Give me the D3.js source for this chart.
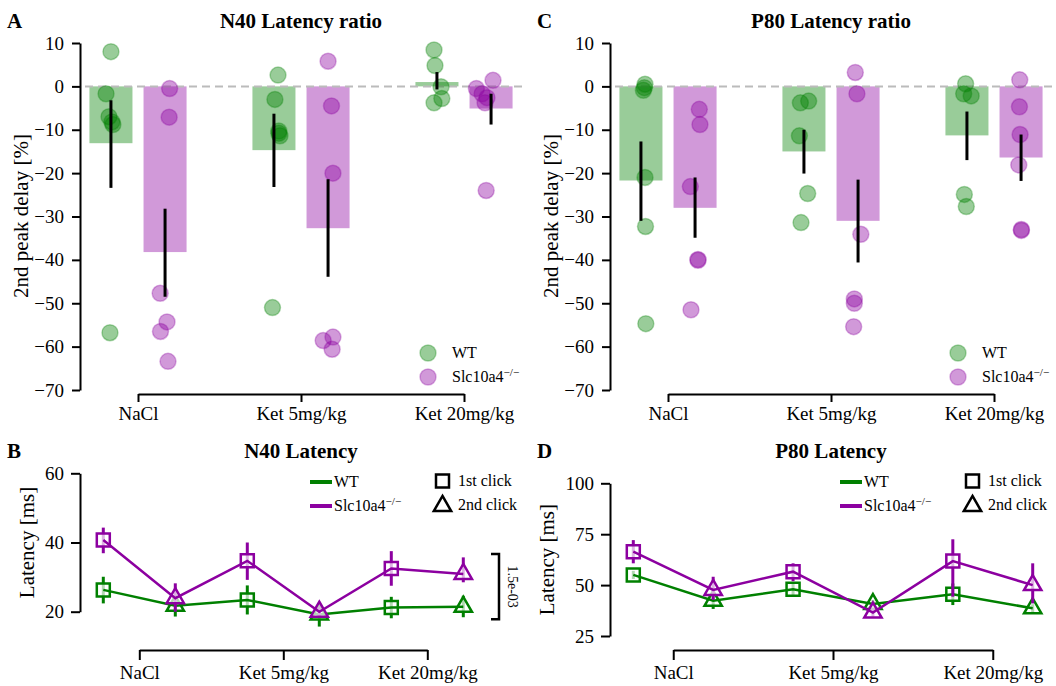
<!DOCTYPE html>
<html>
<head>
<meta charset="utf-8">
<script src="https://cdn.jsdelivr.net/npm/d3@7"></script>
<style>
  body { margin: 0; background: #fff; }
  svg { font-family: "Liberation Serif", serif; }
  .axis path, .axis line { stroke: #000; stroke-width: 2; }
  .axis text { font-family: "Liberation Serif", serif; font-size: 19px; fill: #000; }
</style>
</head>
<body>
<svg id="fig" width="1056" height="686"></svg>
<script>
var width = 1056;
var height = 686;

// categories and groups
var conditions = ["NaCl", "Ket 5mg/kg", "Ket 20mg/kg"];
var genotypes = ["WT", "Slc10a4"];
var clicks = ["1st click", "2nd click"];

var green = "#008000";
var purple = "#8c00a0";

// ---- panel A: N40 latency ratio (bars = mean, ci = error bar, points = animals)
var n40RatioWT = [-13.1, -14.7, 1.0];
var n40RatioSlc = [-38.2, -32.7, -5.1];
var n40CiWT = [[-23.4, -3.2], [-23.2, -6.3], [-0.7, 3.3]];
var n40CiSlc = [[-48.5, -28.2], [-43.9, -21.4], [-8.8, -1.7]];
var n40PtsWT = [
  [8.0, -1.7, -7.0, -8.2, -8.8, -56.8],
  [2.6, -3.0, -10.3, -10.8, -11.4, -51.0],
  [8.4, 4.8, -0.1, -2.8, -3.8]
];
var n40PtsSlc = [
  [-0.5, -7.1, -47.7, -54.3, -56.5, -63.4],
  [5.8, -4.5, -20.0, -57.8, -58.6, -60.6],
  [1.4, -0.5, -1.7, -2.6, -3.8, -24.0]
];
// strip jitter (fraction of category step)
var n40JitWT = [
  [0, -0.03, -0.012, 0.006, 0.012, -0.006],
  [0.025, 0.006, 0.03, 0.03, 0.037, -0.009],
  [-0.018, -0.012, 0.025, 0.03, -0.018]
];
var n40JitSlc = [
  [0.028, 0.025, -0.03, 0.012, -0.028, 0.018],
  [0, 0.021, 0.03, 0.03, -0.03, 0.025],
  [0.012, -0.09, -0.055, -0.025, -0.037, -0.03]
];

// ---- panel C: P80 latency ratio
var p80RatioWT = [-21.7, -15.0, -11.3];
var p80RatioSlc = [-28.0, -31.0, -16.4];
var p80CiWT = [[-31.0, -12.7], [-20.1, -10.0], [-17.0, -5.8]];
var p80CiSlc = [[-34.9, -21.0], [-40.6, -21.5], [-21.8, -11.1]];
var p80PtsWT = [
  [0.5, -0.3, -0.9, -21.0, -32.3, -54.7],
  [-3.4, -3.8, -11.4, -24.7, -31.4],
  [0.6, -1.7, -2.2, -24.9, -27.7]
];
var p80PtsSlc = [
  [-5.3, -8.8, -23.1, -39.9, -40.1, -51.5],
  [3.2, -1.7, -34.1, -49.0, -50.0, -55.4],
  [1.5, -4.7, -11.1, -18.1, -33.0, -33.2]
];
var p80JitWT = [
  [0.025, 0.021, 0.015, 0.025, 0.028, 0.03],
  [0.029, -0.022, -0.028, 0.023, -0.018],
  [-0.008, -0.02, 0.026, -0.016, -0.004]
];
var p80JitSlc = [
  [0.026, 0.03, -0.029, 0.018, 0.018, -0.025],
  [-0.017, -0.007, 0.017, -0.023, -0.023, -0.027],
  [-0.008, -0.01, -0.006, -0.014, 0.002, 0.002]
];

// ---- panel B: N40 latency, order: NaCl 1st, NaCl 2nd, Ket5 1st, Ket5 2nd, Ket20 1st, Ket20 2nd
var n40LatWT = [26.3, 21.7, 23.4, 19.2, 21.2, 21.4];
var n40LatWTci = [[22.4, 30.1], [18.6, 24.0], [19.2, 27.6], [15.7, 20.5], [18.1, 24.3], [18.4, 24.6]];
var n40LatSlc = [40.7, 23.9, 34.7, 20.0, 32.5, 30.9];
var n40LatSlcci = [[36.9, 44.3], [20.0, 28.2], [29.2, 40.0], [18.5, 21.5], [27.5, 37.5], [28.5, 35.7]];
var n40Bracket = [17.8, 36.7];
var n40Pval = "1.5e-03";

// ---- panel D: P80 latency
var p80LatWT = [55.0, 42.3, 48.0, 40.7, 45.5, 38.6];
var p80LatWTci = [[53.0, 57.0], [38.3, 46.3], [44.6, 51.2], [38.7, 42.7], [40.2, 50.8], [36.6, 40.6]];
var p80LatSlc = [66.4, 47.6, 56.6, 36.5, 61.8, 50.0];
var p80LatSlcci = [[60.7, 72.1], [42.7, 54.1], [51.9, 60.7], [34.5, 38.5], [44.3, 72.5], [41.0, 60.7]];

var svg = d3.select("#fig");

function slcLabel(sel) {
  sel.append("tspan").text("Slc10a4");
  sel.append("tspan").attr("dy", -6).attr("font-size", "0.7em").text("\u2212/\u2212");
}

function barPanel(ox, letter, title, meanWT, meanSlc, ciWT, ciSlc, ptsWT, ptsSlc, jitWT, jitSlc) {
  var g = svg.append("g").attr("transform", "translate(" + ox + ",0)");

  var y = d3.scaleLinear().domain([-70, 10]).range([390, 43]);
  var x = d3.scalePoint().domain(conditions).range([138, 464]);
  var step = x.step();
  var off = 0.166 * step, bw = 0.264 * step;

  var series = [
    { col: green, mean: meanWT, ci: ciWT, pts: ptsWT, jit: jitWT, dx: -off },
    { col: purple, mean: meanSlc, ci: ciSlc, pts: ptsSlc, jit: jitSlc, dx: off }
  ];

  series.forEach(function (s) {
    g.selectAll(null).data(conditions).enter().append("rect")
      .attr("x", function (d) { return x(d) + s.dx - bw / 2; })
      .attr("width", bw)
      .attr("y", function (d, i) { return y(Math.max(0, s.mean[i])); })
      .attr("height", function (d, i) { return Math.abs(y(s.mean[i]) - y(0)); })
      .attr("fill", s.col).attr("fill-opacity", 0.4);
  });

  // zero line
  g.append("line")
    .attr("x1", 85).attr("x2", 522)
    .attr("y1", y(0)).attr("y2", y(0))
    .attr("stroke", "#bbb").attr("stroke-width", 2).attr("stroke-dasharray", "8,5");

  series.forEach(function (s) {
    conditions.forEach(function (c, i) {
      g.selectAll(null).data(s.pts[i]).enter().append("circle")
        .attr("cx", function (d, j) { return x(c) + s.dx + s.jit[i][j] * step; })
        .attr("cy", function (d) { return y(d); })
        .attr("r", 8)
        .attr("fill", s.col).attr("fill-opacity", 0.4)
        .attr("stroke", s.col).attr("stroke-opacity", 0.3).attr("stroke-width", 1.5);
    });
    g.selectAll(null).data(conditions).enter().append("line")
      .attr("x1", function (d) { return x(d) + s.dx; })
      .attr("x2", function (d) { return x(d) + s.dx; })
      .attr("y1", function (d, i) { return y(s.ci[i][0]); })
      .attr("y2", function (d, i) { return y(s.ci[i][1]); })
      .attr("stroke", "#000").attr("stroke-width", 3);
  });

  g.append("g").attr("class", "axis").attr("transform", "translate(80,0)")
    .call(d3.axisLeft(y).tickValues(d3.range(-70, 11, 10)).tickSize(8).tickSizeOuter(0).tickPadding(8));
  g.append("g").attr("class", "axis").attr("transform", "translate(0,394)")
    .call(d3.axisBottom(x).tickSize(8).tickSizeOuter(0).tickPadding(5));

  g.append("text").attr("transform", "translate(28,216) rotate(-90)")
    .attr("text-anchor", "middle").attr("font-size", 21).text("2nd peak delay [%]");
  g.append("text").attr("x", 301).attr("y", 28).attr("text-anchor", "middle")
    .attr("font-size", 21).attr("font-weight", "bold").text(title);
  g.append("text").attr("x", 7).attr("y", 28)
    .attr("font-size", 21).attr("font-weight", "bold").text(letter);

  // legend
  series.forEach(function (s, i) {
    var ly = 353 + i * 24;
    g.append("circle").attr("cx", 428).attr("cy", ly).attr("r", 8)
      .attr("fill", s.col).attr("fill-opacity", 0.4)
      .attr("stroke", s.col).attr("stroke-opacity", 0.3).attr("stroke-width", 1.5);
    var t = g.append("text").attr("x", 452).attr("y", ly + 5).attr("font-size", 16);
    if (i == 0) t.text("WT"); else slcLabel(t);
  });
}

function linePanel(ox, letter, title, yDomain, yTicks, yBottom, yTop, xRange, labelX, meanWT, ciWT, meanSlc, ciSlc, bracket, pval) {
  var g = svg.append("g").attr("transform", "translate(" + ox + ",0)");
  var keys = [];
  conditions.forEach(function (c) { clicks.forEach(function (k) { keys.push(c + "|" + k); }); });

  var y = d3.scaleLinear().domain(yDomain).range([yBottom, yTop]);
  var x = d3.scalePoint().domain(keys).range(xRange);
  var xc = d3.scalePoint().domain(conditions)
    .range([(x(keys[0]) + x(keys[1])) / 2, (x(keys[4]) + x(keys[5])) / 2]);

  var square = d3.symbol().type(d3.symbolSquare).size(169);
  var tri = d3.symbol().type(d3.symbolTriangle).size(130);

  var series = [
    { col: green, mean: meanWT, ci: ciWT },
    { col: purple, mean: meanSlc, ci: ciSlc }
  ];

  series.forEach(function (s) {
    g.selectAll(null).data(keys).enter().append("line")
      .attr("x1", function (d) { return x(d); })
      .attr("x2", function (d) { return x(d); })
      .attr("y1", function (d, i) { return y(s.ci[i][0]); })
      .attr("y2", function (d, i) { return y(s.ci[i][1]); })
      .attr("stroke", s.col).attr("stroke-width", 3);
    g.selectAll(null).data(keys).enter().append("path")
      .attr("transform", function (d, i) { return "translate(" + x(d) + "," + y(s.mean[i]) + ")"; })
      .attr("d", function (d, i) { return i % 2 == 0 ? square() : tri(); })
      .attr("fill", "#fff").attr("fill-opacity", 0.7)
      .attr("stroke", s.col).attr("stroke-width", 2.5);
    g.append("path").datum(keys)
      .attr("d", d3.line().x(function (d) { return x(d); }).y(function (d, i) { return y(s.mean[i]); }))
      .attr("fill", "none").attr("stroke", s.col).attr("stroke-width", 2.5);
  });

  g.append("g").attr("class", "axis").attr("transform", "translate(80,0)")
    .call(d3.axisLeft(y).tickValues(yTicks).tickSize(9).tickSizeOuter(0).tickPadding(7));
  g.append("g").attr("class", "axis").attr("transform", "translate(0,650)")
    .call(d3.axisBottom(xc).tickSize(10).tickSizeOuter(0).tickPadding(6));

  g.append("text").attr("transform", "translate(" + labelX + "," + ((yBottom + yTop) / 2) + ") rotate(-90)")
    .attr("text-anchor", "middle").attr("font-size", 21).text("Latency [ms]");
  g.append("text").attr("x", 301).attr("y", 458).attr("text-anchor", "middle")
    .attr("font-size", 21).attr("font-weight", "bold").text(title);
  g.append("text").attr("x", 7).attr("y", 458)
    .attr("font-size", 21).attr("font-weight", "bold").text(letter);

  // legends
  series.forEach(function (s, i) {
    var ly = 482 + i * 24;
    g.append("line").attr("x1", 310).attr("x2", 332).attr("y1", ly).attr("y2", ly)
      .attr("stroke", s.col).attr("stroke-width", 4);
    var t = g.append("text").attr("x", 334).attr("y", ly + 5).attr("font-size", 16);
    if (i == 0) t.text("WT"); else slcLabel(t);
  });
  clicks.forEach(function (k, i) {
    var ly = 481 + i * 24;
    g.append("path").attr("transform", "translate(442.5," + (ly + (i == 1 ? 1 : 0)) + ")")
      .attr("d", i == 0 ? square() : tri())
      .attr("fill", "none").attr("stroke", "#000").attr("stroke-width", 2.5);
    g.append("text").attr("x", 458).attr("y", ly + 5).attr("font-size", 16).text(k);
  });

  if (bracket) {
    g.append("path")
      .attr("d", "M491," + y(bracket[1]) + "H499V" + y(bracket[0]) + "H491")
      .attr("fill", "none").attr("stroke", "#000").attr("stroke-width", 2.5);
    g.append("text")
      .attr("transform", "translate(508," + ((y(bracket[0]) + y(bracket[1])) / 2) + ") rotate(90)")
      .attr("text-anchor", "middle").attr("font-size", 14).text(pval);
  }
}

barPanel(0, "A", "N40 Latency ratio", n40RatioWT, n40RatioSlc, n40CiWT, n40CiSlc, n40PtsWT, n40PtsSlc, n40JitWT, n40JitSlc);
barPanel(530, "C", "P80 Latency ratio", p80RatioWT, p80RatioSlc, p80CiWT, p80CiSlc, p80PtsWT, p80PtsSlc, p80JitWT, p80JitSlc);
linePanel(0, "B", "N40 Latency", [20, 60], [20, 40, 60], 611.7, 473.3, [103.3, 463.3], 34,
  n40LatWT, n40LatWTci, n40LatSlc, n40LatSlcci, n40Bracket, n40Pval);
linePanel(530, "D", "P80 Latency", [25, 100], [25, 50, 75, 100], 636, 483.3, [103.3, 502.7], 24,
  p80LatWT, p80LatWTci, p80LatSlc, p80LatSlcci, null, null);
</script>
</body>
</html>
